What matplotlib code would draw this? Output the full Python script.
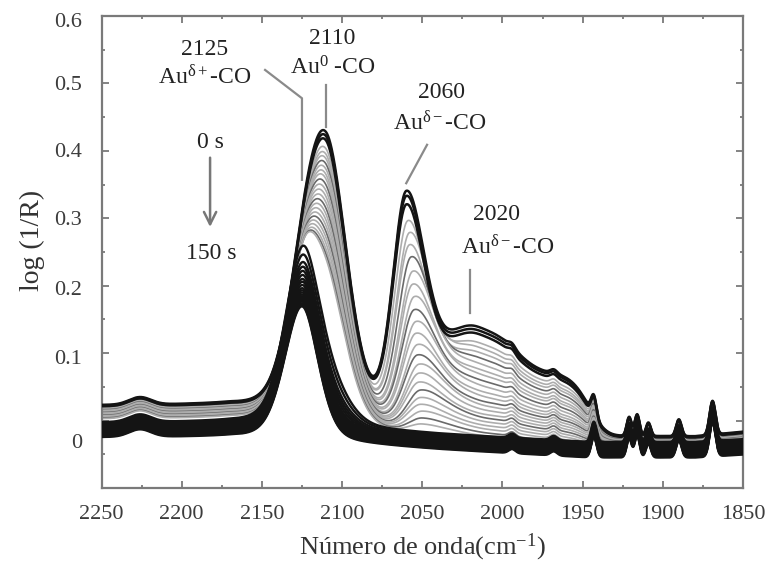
import numpy as np
import matplotlib
matplotlib.use("Agg")
import matplotlib.pyplot as plt

plt.rcParams["font.family"] = ["Liberation Serif", "DejaVu Serif"]
plt.rcParams["mathtext.fontset"] = "custom"
plt.rcParams["mathtext.rm"] = "Liberation Serif"
plt.rcParams["mathtext.it"] = "Liberation Serif:italic"
plt.rcParams["mathtext.bf"] = "Liberation Serif:bold"

# ---------------------------------------------------------------------------
# Spectral series (0 s -> 150 s): band amplitudes per spectrum
# group sizes: 3 early (dark), 21 intermediate (grey), 20 late (dark)
# ---------------------------------------------------------------------------
n_early, n_mid, n_late = 3, 21, 20

# Au0-CO band at 2110 cm-1
amp_2110 = ([0.390, 0.385, 0.379]
            + [0.366, 0.358, 0.350, 0.342, 0.334, 0.326, 0.318, 0.309, 0.300,
               0.291, 0.282, 0.273, 0.264, 0.255, 0.246, 0.237, 0.228, 0.219,
               0.210, 0.202, 0.195]
            + [0.060, 0.050, 0.040, 0.035, 0.030, 0.025, 0.020, 0.018, 0.015,
               0.012, 0.010, 0.008, 0.006, 0.005, 0.004, 0.003, 0.002, 0.001,
               0.000, 0.000])

# Au(delta+)-CO band at 2125 cm-1
amp_2125 = ([0.070, 0.070, 0.072]
            + [0.075, 0.078, 0.082, 0.086, 0.090, 0.094, 0.098, 0.102, 0.106,
               0.110, 0.114, 0.118, 0.122, 0.126, 0.130, 0.134, 0.138, 0.142,
               0.146, 0.150, 0.155]
            + [0.232, 0.227, 0.224, 0.222, 0.220, 0.218, 0.216, 0.214, 0.212,
               0.210, 0.209, 0.208, 0.207, 0.206, 0.205, 0.204, 0.203, 0.202,
               0.201, 0.200])

# Au(delta-)-CO band near 2060 cm-1 (drifts towards 2050 as it fades)
amp_2060 = ([0.320, 0.314, 0.303]
            + [0.280, 0.263, 0.246, 0.229, 0.209, 0.192, 0.174, 0.157, 0.141,
               0.126, 0.111, 0.098, 0.086, 0.075, 0.064, 0.054, 0.045, 0.037,
               0.029, 0.021, 0.014]
            + [0.0] * n_late)
pos_2060 = ([2060, 2060, 2060]
            + [2059, 2058, 2058, 2057, 2056, 2056, 2055, 2055, 2054, 2054, 2053,
               2053, 2052, 2052, 2052, 2051, 2051, 2051, 2050, 2050, 2050]
            + [2050] * n_late)

# Au(delta-)-CO shoulder at 2020 cm-1 and its low-frequency tail
amp_2020 = ([0.140, 0.136, 0.132]
            + [0.120, 0.114, 0.107, 0.100, 0.092, 0.085, 0.078, 0.071, 0.064,
               0.057, 0.051, 0.045, 0.040, 0.035, 0.030, 0.026, 0.022, 0.018,
               0.014, 0.010, 0.007]
            + [0.0] * n_late)
amp_1975 = ([0.085, 0.083, 0.080]
            + [0.074, 0.070, 0.066, 0.062, 0.058, 0.054, 0.050, 0.046, 0.042,
               0.038, 0.035, 0.032, 0.029, 0.026, 0.023, 0.020, 0.017, 0.014,
               0.011, 0.008, 0.005]
            + [0.0] * n_late)

# baseline level on the high- and low-wavenumber side of each spectrum
base_high = ([0.022, 0.021, 0.020]
             + [0.020, 0.019, 0.019, 0.018, 0.017, 0.016, 0.016, 0.015, 0.014,
                0.013, 0.012, 0.011, 0.010, 0.009, 0.008, 0.007, 0.006, 0.005,
                0.004, 0.003, 0.002]
             + [-0.003, -0.005, -0.007, -0.009, -0.010, -0.011, -0.012, -0.013,
                -0.014, -0.015, -0.016, -0.017, -0.018, -0.019, -0.020, -0.021,
                -0.022, -0.023, -0.024, -0.025])
base_low = ([-0.024, -0.025, -0.026]
            + [-0.027, -0.028, -0.028, -0.029, -0.030, -0.031, -0.031, -0.032,
               -0.033, -0.034, -0.035, -0.036, -0.037, -0.038, -0.039, -0.040,
               -0.041, -0.042, -0.043, -0.044, -0.045]
            + [-0.032, -0.034, -0.036, -0.038, -0.040, -0.041, -0.042, -0.043,
               -0.044, -0.045, -0.046, -0.047, -0.048, -0.049, -0.050, -0.051,
               -0.052, -0.053, -0.054, -0.055])

# sharp features shared by all spectra
spike_wn = [2226, 1994, 1968, 1943, 1921, 1916, 1909, 1890, 1869]
spike_h = [0.011, 0.006, 0.006, 0.030, 0.028, 0.032, 0.020, 0.025, 0.050]
spike_w = [8, 2.5, 2.5, 2.0, 1.8, 1.8, 1.8, 2.0, 2.2]

# annotated band positions
band_wn = [2125, 2110, 2060, 2020]
band_labels = ["2125", "2110", "2060", "2020"]
band_species = [r"Au$^{\mathrm{δ+}}$-CO", r"Au$^{\mathrm{0}}$ -CO",
                r"Au$^{\mathrm{δ-}}$-CO", r"Au$^{\mathrm{δ-}}$-CO"]

x_ticks = [2250, 2200, 2150, 2100, 2050, 2000, 1950, 1900, 1850]
y_tick_text = ["0", "0.1", "0.2", "0.3", "0.4", "0.5", "0.6"]
# y tick labels sit slightly off their marks, as set in the figure
y_label_pos = [-0.034, 0.090, 0.193, 0.297, 0.397, 0.497, 0.590]

# ---------------------------------------------------------------------------
wn = np.arange(2250.0, 1849.75, -0.25)
shape_wn = [1850, 1880, 1945, 2040, 2110, 2170, 2250]
shape_frac = [0.85, 1.0, 1.0, 0.6, 0.25, 0.0, 0.0]
frac = np.interp(wn, shape_wn, shape_frac)


def band(x, c, hw_hi, hw_lo, eta=0.15, p=2):
    hw = np.where(x >= c, hw_hi, hw_lo)
    u = np.abs(x - c) / hw
    return (1 - eta) * np.exp(-np.log(2) * u ** p) + eta / (1 + u ** 2)


spikes = sum(h * np.exp(-np.log(2) * ((wn - c) / w) ** 2)
             for c, h, w in zip(spike_wn, spike_h, spike_w))


def spectrum(i):
    y = base_high[i] + (base_low[i] - base_high[i]) * frac
    y = y + amp_2110[i] * band(wn, band_wn[1], 17, 15)
    y = y + amp_2125[i] * band(wn, band_wn[0], 13, 12, 0.3)
    y = y + amp_2060[i] * band(wn, pos_2060[i], 10, 14 + 0.4 * (2060 - pos_2060[i]))
    y = y + amp_2020[i] * band(wn, band_wn[3], 22, 20, 0.1)
    y = y + amp_1975[i] * band(wn, 1975, 30, 29, 0.0, 4)
    return y + spikes


fig = plt.figure(figsize=(7.71, 5.63), dpi=100)
ax = fig.add_axes([101.5 / 771, 75 / 563, 641.5 / 771, 472 / 563])

n_total = n_early + n_mid + n_late
mid_idx = range(n_early, n_early + n_mid)
late_idx = range(n_early + n_mid, n_total)
early_idx = range(0, n_early)

for k, i in enumerate(mid_idx):
    col = "#6a6a6a" if k % 4 == 3 else "#adadad"
    ax.plot(wn, spectrum(i), color=col, lw=1.2, zorder=2)
for i in late_idx:
    ax.plot(wn, spectrum(i), color="#141414", lw=1.7, zorder=3)
for i in early_idx:
    ax.plot(wn, spectrum(i), color="#141414", lw=1.8, zorder=4)

ax.set_xlim(2250, 1850)
ax.set_ylim(-0.1, 0.6)

frame = "#7a7a7a"
for s in ax.spines.values():
    s.set_color(frame)
    s.set_linewidth(1.6)

ax.set_xticks(x_ticks)
ax.set_xticks(np.arange(1850, 2251, 25), minor=True)
ax.set_yticks(np.arange(-0.1, 0.61, 0.1))
ax.set_yticks(np.arange(-0.05, 0.6, 0.1), minor=True)
ax.tick_params(which="both", direction="in", top=True, right=True,
               color=frame, width=1.3)
ax.tick_params(which="major", length=5)
ax.tick_params(which="minor", length=2.5)
ax.tick_params(axis="x", labelsize=16, labelcolor="#3c3c3c", pad=12)
ax.tick_params(axis="y", labelleft=False)

for v, t in zip(y_label_pos, y_tick_text):
    ax.text(-0.03, v, t, transform=ax.get_yaxis_transform(), ha="right",
            va="center", fontsize=16, color="#3c3c3c")

ax.set_xlabel(r"Número de onda(cm$^{\mathrm{-1}}$)", fontsize=19, color="#333333")
ax.xaxis.set_label_coords(0.5, -0.092)
ax.set_ylabel("log (1/R)", fontsize=20, color="#333333")
ax.yaxis.set_label_coords(-0.088, 0.525)

txt = dict(fontsize=17, color="#222222", ha="center", va="center", zorder=6)
lead = dict(color="#8a8a8a", lw=1.6, zorder=5)

# 2125 Au(delta+)-CO
ax.text(2185.5, 0.550, band_labels[0], **txt)
ax.text(2185.5, 0.510, band_species[0], **txt)
ax.plot([2148, band_wn[0], band_wn[0]], [0.520, 0.478, 0.357], **lead)
# 2110 Au0-CO
ax.text(2106.3, 0.567, band_labels[1], **txt)
ax.text(2105.7, 0.523, band_species[1], **txt)
ax.plot([band_wn[1], band_wn[1]], [0.498, 0.436], **lead)
# 2060 Au(delta-)-CO
ax.text(2037.7, 0.486, band_labels[2], **txt)
ax.text(2039.0, 0.441, band_species[2], **txt)
ax.plot([2047, band_wn[2]], [0.409, 0.352], **lead)
# 2020 Au(delta-)-CO
ax.text(2003.5, 0.305, band_labels[3], **txt)
ax.text(1996.6, 0.257, band_species[3], **txt)
ax.plot([band_wn[3], band_wn[3]], [0.223, 0.160], **lead)

# time arrow
ax.text(2182.3, 0.413, "0 s", **txt)
ax.text(2181.7, 0.2485, "150 s", **txt)
ax.annotate("", xy=(2182.3, 0.283), xytext=(2182.3, 0.394),
            arrowprops=dict(arrowstyle="->", color="#777777", lw=1.8,
                            mutation_scale=22), zorder=5)

fig.savefig("out.png", dpi=100)
